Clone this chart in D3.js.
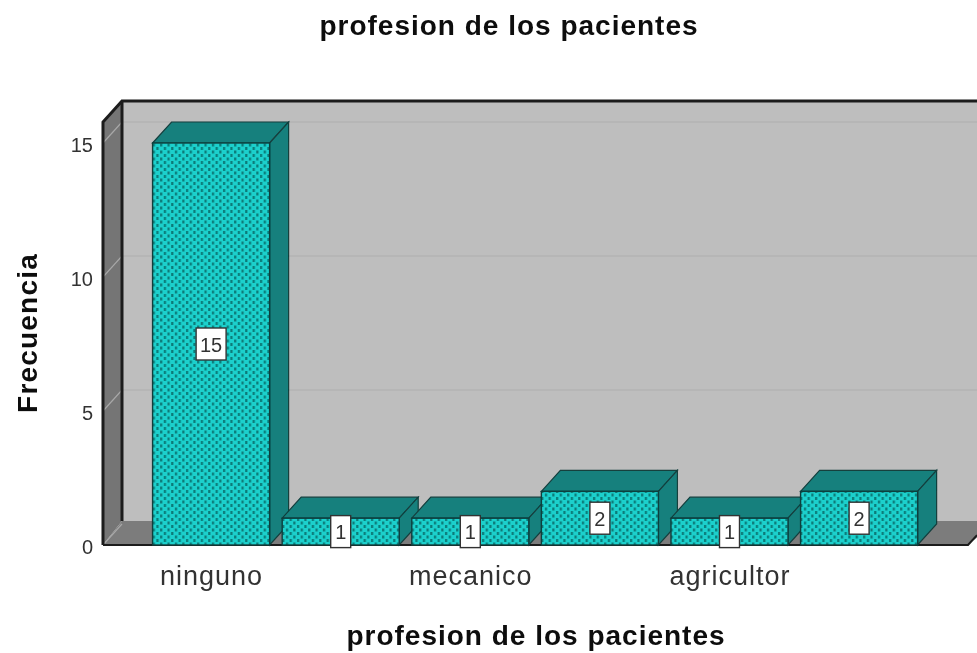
<!DOCTYPE html>
<html>
<head>
<meta charset="utf-8">
<script src="https://cdn.jsdelivr.net/npm/d3@7"></script>
<style>
  html, body { margin: 0; padding: 0; background: #fff; }
  svg { display: block; }
  text { font-family: "Liberation Sans", Arial, sans-serif; fill: #111; }
</style>
</head>
<body>
<div id="chart"></div>
<script>
// only every second category label is printed in the source picture
const categories = ["ninguno", "", "mecanico", "", "agricultor", ""];
const counts = [15, 1, 1, 2, 1, 2];
const yTicks = [0, 5, 10, 15];
const titleText = "profesion de los pacientes";
const yTitleText = "Frecuencia";

const W = 977, H = 653;
const depth = { x: 19, y: 21 };
const floorDepth = 24;
const axisX = 103, axisRight = 968;

const svg = d3.select("#chart").append("svg").attr("width", W).attr("height", H);
const defs = svg.append("defs");

// dotted fill of the bars
const pat = defs.append("pattern").attr("id", "dots").attr("patternUnits", "userSpaceOnUse")
  .attr("width", 7.4).attr("height", 7);
pat.append("rect").attr("width", 7.4).attr("height", 7).attr("fill", "#1bd0cc");
pat.append("rect").attr("x", 1).attr("y", 0).attr("width", 2.2).attr("height", 3).attr("fill", "#0b7a77");
pat.append("rect").attr("x", 4.7).attr("y", 3.5).attr("width", 2.2).attr("height", 3).attr("fill", "#0b7a77");

defs.append("filter").attr("id", "soft").append("feGaussianBlur").attr("stdDeviation", 0.45);

const x = d3.scaleBand().domain(d3.range(categories.length)).range([146.3, 923.9])
  .paddingInner(0.097).paddingOuter(0.0485);
const y = d3.scaleLinear().domain([0, 15]).range([545, 143]);

const g = svg.append("g").attr("filter", "url(#soft)");
const poly = (pts) => pts.map((p) => p.join(",")).join(" ");
const wallFront = y(15) - depth.y;   // top of the front edge of the left wall
const wallBack = wallFront - depth.y;
const front = y(0);
const floorBack = front - floorDepth;

// back wall
g.append("rect").attr("x", axisX + depth.x).attr("y", wallBack).attr("width", W).attr("height", floorBack - wallBack)
  .attr("fill", "#bebebe");
// left wall
g.append("polygon")
  .attr("points", poly([[axisX, wallFront], [axisX + depth.x, wallBack], [axisX + depth.x, floorBack], [axisX, front]]))
  .attr("fill", "#747474");
// floor
g.append("polygon")
  .attr("points", poly([[axisX, front], [axisX + depth.x, floorBack], [W + 20, floorBack], [axisRight, front]]))
  .attr("fill", "#7b7b7b");

// grid lines on the back wall and the left wall
yTicks.slice(1).forEach((t) => {
  g.append("line").attr("x1", axisX + depth.x).attr("x2", W).attr("y1", y(t) - depth.y).attr("y2", y(t) - depth.y)
    .attr("stroke", "#adadad").attr("stroke-width", 1.2);
});
yTicks.forEach((t) => {
  g.append("line").attr("x1", axisX).attr("x2", axisX + depth.x).attr("y1", y(t)).attr("y2", y(t) - depth.y)
    .attr("stroke", "#a8a8a8").attr("stroke-width", 1.2);
});

// wall outlines
g.append("path").attr("fill", "none").attr("stroke", "#1c1c1c").attr("stroke-width", 3)
  .attr("d", `M${axisX},${front} V${wallFront} L${axisX + depth.x},${wallBack} H${W}`);
g.append("line").attr("x1", axisX + depth.x).attr("x2", axisX + depth.x).attr("y1", wallBack).attr("y2", floorBack)
  .attr("stroke", "#1c1c1c").attr("stroke-width", 3);
g.append("path").attr("fill", "none").attr("stroke", "#1c1c1c").attr("stroke-width", 2)
  .attr("d", `M${axisX},${front} H${axisRight} L${W},${front - 9 * depth.y / depth.x}`);

// y axis, no domain line and no tick marks
const yAxis = g.append("g").attr("transform", `translate(${axisX},2)`)
  .call(d3.axisLeft(y).tickValues(yTicks).tickSize(0).tickPadding(10));
yAxis.select(".domain").remove();
yAxis.selectAll("text").style("font-size", "20px").style("font-family", "\"Liberation Sans\", Arial, sans-serif")
  .style("fill", "#333");

// bars
const bars = g.selectAll("g.bar").data(counts).join("g").attr("class", "bar");
const bx = (d, i) => x(i), bw = x.bandwidth();
bars.append("polygon").attr("fill", "#14807d").attr("stroke", "#123f3e").attr("stroke-width", 1.2)
  .attr("points", (d, i) => poly([[bx(d, i), y(d)], [bx(d, i) + depth.x, y(d) - depth.y], [bx(d, i) + bw + depth.x, y(d) - depth.y], [bx(d, i) + bw, y(d)]]));
bars.append("polygon").attr("fill", "#14807d").attr("stroke", "#123f3e").attr("stroke-width", 1.2)
  .attr("points", (d, i) => poly([[bx(d, i) + bw, y(d)], [bx(d, i) + bw + depth.x, y(d) - depth.y], [bx(d, i) + bw + depth.x, y(0) - depth.y], [bx(d, i) + bw, y(0)]]));
bars.append("rect").attr("x", bx).attr("y", (d) => y(d)).attr("width", bw).attr("height", (d) => y(0) - y(d))
  .attr("fill", "url(#dots)").attr("stroke", "#0f3f3e").attr("stroke-width", 1.4);

// value labels
bars.each(function (d, i) {
  const cx = x(i) + bw / 2, cy = (y(d) + y(0)) / 2;
  const boxW = d >= 10 ? 30 : 20;
  const b = d3.select(this);
  b.append("rect").attr("x", cx - boxW / 2).attr("y", cy - 16).attr("width", boxW).attr("height", 32)
    .attr("fill", "#fff").attr("stroke", "#333").attr("stroke-width", 1.4);
  b.append("text").attr("x", cx).attr("y", cy + 7.5).attr("text-anchor", "middle")
    .style("font-size", "20px").style("fill", "#333").text(d);
});

// category labels
g.selectAll("text.cat").data(categories).join("text").attr("class", "cat")
  .attr("x", (d, i) => x(i) + bw / 2 + 0.5).attr("y", 585).attr("text-anchor", "middle")
  .style("font-size", "27px").style("letter-spacing", "1px").style("fill", "#333").text((d) => d);

// titles
g.append("text").attr("x", 509).attr("y", 35).attr("text-anchor", "middle")
  .style("font-size", "28px").style("letter-spacing", "1px").style("font-weight", 700).text(titleText);
g.append("text").attr("x", 536).attr("y", 645).attr("text-anchor", "middle")
  .style("font-size", "28px").style("letter-spacing", "1px").style("font-weight", 700).text(titleText);
g.append("text").attr("transform", "translate(37,333) rotate(-90)").attr("text-anchor", "middle")
  .style("font-size", "28px").style("letter-spacing", "1.2px").style("font-weight", 700).text(yTitleText);
</script>
</body>
</html>
